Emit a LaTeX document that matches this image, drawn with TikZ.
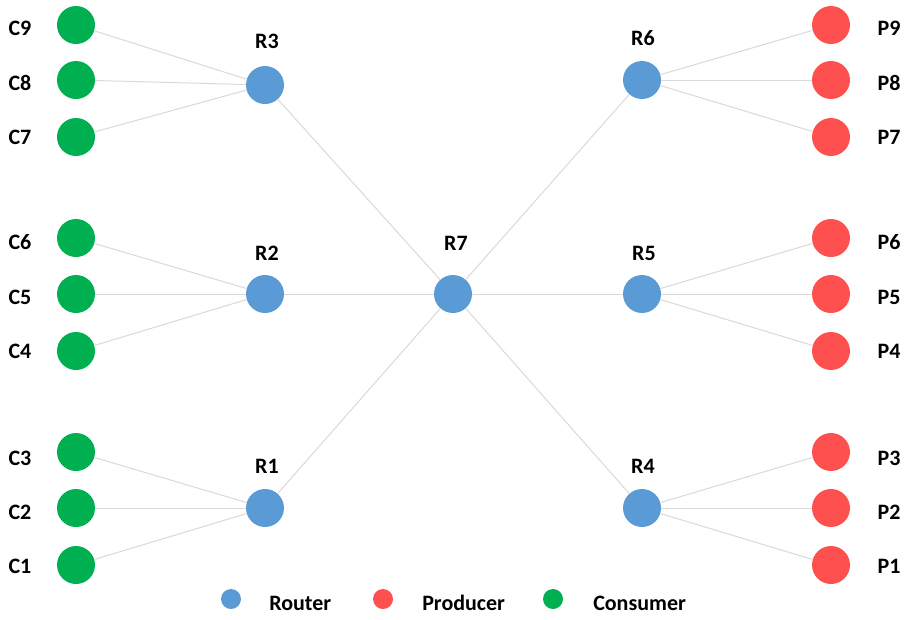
\documentclass[tikz,border=0pt]{standalone}
\usepackage{fontspec}
\setmainfont{Carlito}
\definecolor{consumer}{HTML}{00B050}
\definecolor{router}{HTML}{5B9BD5}
\definecolor{producer}{HTML}{FF5050}
\definecolor{link}{HTML}{D9D9D9}
\begin{document}
\begin{tikzpicture}[x=0.75pt,y=-0.75pt,
  dot/.style={circle,inner sep=0pt,minimum size=28.5pt,draw=none},
  cnode/.style={dot,fill=consumer},
  rnode/.style={dot,fill=router},
  pnode/.style={dot,fill=producer},
  keydot/.style={circle,inner sep=0pt,minimum size=15pt,draw=none},
  lbl/.style={inner sep=0pt,font=\fontsize{16.5pt}{18pt}\selectfont\bfseries},
  wire/.style={draw=link,line width=0.75pt}]
\useasboundingbox (0,0) rectangle (904,619);

% consumers
\foreach \n/\y in {9/25,8/80,7/137,6/238,5/294,4/351,3/452,2/508,1/565}
  \node[cnode] (C\n) at (76,\y) {};
% producers
\foreach \n/\y in {9/25,8/80,7/137,6/238,5/294,4/351,3/452,2/508,1/565}
  \node[pnode] (P\n) at (831,\y) {};
% routers
\node[rnode] (R3) at (265,85) {};
\node[rnode] (R2) at (265,294) {};
\node[rnode] (R1) at (265,508) {};
\node[rnode] (R7) at (453,294) {};
\node[rnode] (R6) at (642,80) {};
\node[rnode] (R5) at (642,294) {};
\node[rnode] (R4) at (642,508) {};

% links
\foreach \c/\r in {9/3,8/3,7/3,6/2,5/2,4/2,3/1,2/1,1/1}
  \draw[wire] (C\c) -- (R\r);
\foreach \p/\r in {9/6,8/6,7/6,6/5,5/5,4/5,3/4,2/4,1/4}
  \draw[wire] (R\r) -- (P\p);
\foreach \r in {1,2,3,4,5,6}
  \draw[wire] (R\r) -- (R7);

% consumer and producer labels
\foreach \n/\y in {9/28,8/83,7/137,6/242,5/297,4/351,3/458,2/512,1/566}{
  \node[lbl] (lC\n) at (20,\y) {C\n};
  \node[lbl] (lP\n) at (889,\y) {P\n};
}
% router labels
\node[lbl] (lR3) at (267,41) {R3};
\node[lbl] (lR2) at (267,253) {R2};
\node[lbl] (lR1) at (267,466) {R1};
\node[lbl] (lR7) at (456,243) {R7};
\node[lbl] (lR6) at (643,38) {R6};
\node[lbl] (lR5) at (644,253) {R5};
\node[lbl] (lR4) at (643,466) {R4};

% legend
\node[keydot,fill=router] (kR) at (231,599) {};
\node[lbl,anchor=west] (kRt) at (269,603) {Router};
\node[keydot,fill=producer] (kP) at (383,599) {};
\node[lbl,anchor=west] (kPt) at (422,603) {Producer};
\node[keydot,fill=consumer] (kC) at (553,599) {};
\node[lbl,anchor=west] (kCt) at (593,603) {Consumer};
\end{tikzpicture}
\end{document}
